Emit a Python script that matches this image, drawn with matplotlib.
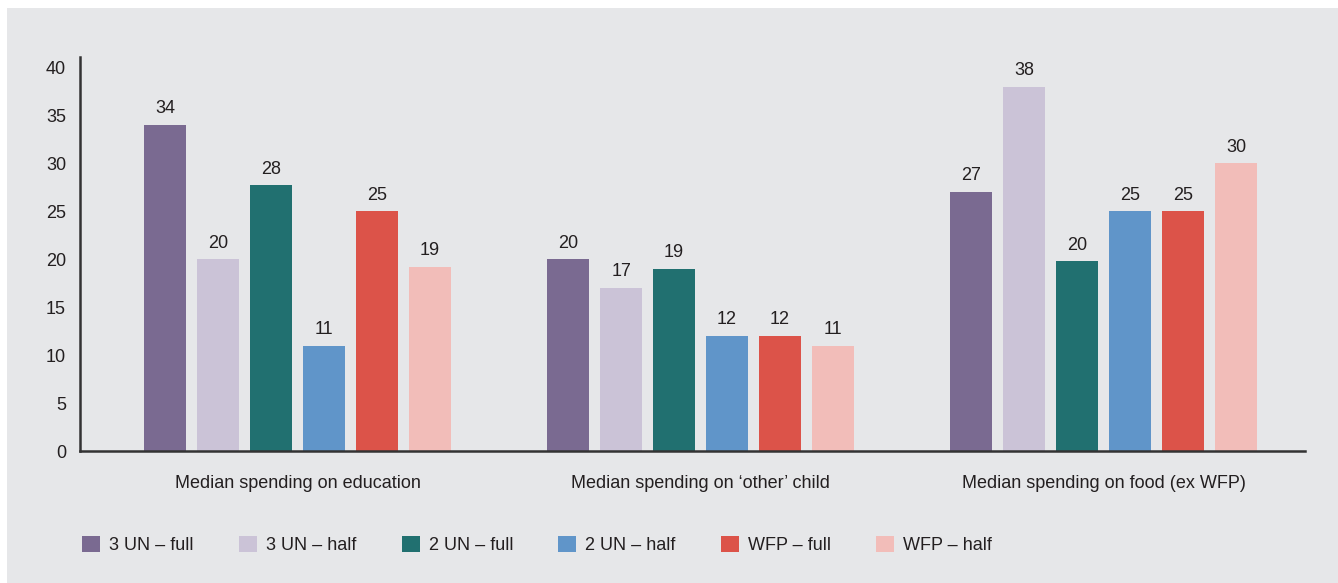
import numpy as np
import matplotlib.pyplot as plt
from matplotlib.patches import Rectangle

categories = ["Median spending on education",
              "Median spending on \u2018other\u2019 child",
              "Median spending on food (ex WFP)"]
series = ["3 UN \u2013 full", "3 UN \u2013 half", "2 UN \u2013 full",
          "2 UN \u2013 half", "WFP \u2013 full", "WFP \u2013 half"]
un3_full = [34, 20, 27]
un3_half = [20, 17, 38]
un2_full = [27.7, 19, 19.8]
un2_half = [11, 12, 25]
wfp_full = [25, 12, 25]
wfp_half = [19.2, 11, 30]
# printed labels (rounded)
labels = [[34, 20, 28, 11, 25, 19],
          [20, 17, 19, 12, 12, 11],
          [27, 38, 20, 25, 25, 30]]
colors = ["#7a6a91", "#cbc3d7", "#217070", "#6095c9", "#dc5349", "#f2bdb9"]

data = [un3_full, un3_half, un2_full, un2_half, wfp_full, wfp_half]

plt.rcParams['font.family'] = ['Liberation Sans Narrow', 'Liberation Sans', 'DejaVu Sans']
txt = "#231f20"
bg = "#e6e7e9"
fs = 13

fig = plt.figure(figsize=(13.38, 5.83), dpi=100)
fig.patch.set_facecolor("white")
fig.patches.append(Rectangle((7 / 1338, 0), 1, 1 - 8 / 583, transform=fig.transFigure,
                             facecolor=bg, edgecolor="none", zorder=-10))

ax = fig.add_axes([80 / 1338, 1 - 451 / 583, (1305 - 80) / 1338, (451 - 57) / 583])
ax.set_facecolor(bg)

x = np.arange(len(categories))
step = 0.1315
width = 0.104
for i, (vals, c, name) in enumerate(zip(data, colors, series)):
    pos = x + (i - 2.5) * step
    ax.bar(pos, vals, width, color=c, label=name, zorder=2)
    for j, p in enumerate(pos):
        ax.text(p, vals[j] + 0.8, str(labels[j][i]), ha="center", va="bottom",
                fontsize=fs, color=txt)

ax.set_xlim(-0.54, 2.5)
ax.set_ylim(0, 41.1)
ax.set_yticks(range(0, 41, 5))
ax.set_xticks(x)
ax.set_xticklabels(categories)
ax.tick_params(axis="y", length=0, labelsize=fs, colors=txt, pad=10)
ax.tick_params(axis="x", length=0, labelsize=fs, colors=txt, pad=17)
for s in ["top", "right"]:
    ax.spines[s].set_visible(False)
for s in ["left", "bottom"]:
    ax.spines[s].set_color("#333333")
    ax.spines[s].set_linewidth(1.8)

handles, lbls = ax.get_legend_handles_labels()
leg = fig.legend(handles, lbls, loc="center left", bbox_to_anchor=(66 / 1338, 1 - 545 / 583),
                 ncol=6, frameon=False, fontsize=fs, handlelength=1.0, handleheight=1.0,
                 handletextpad=0.5, columnspacing=2.5)
for t in leg.get_texts():
    t.set_color(txt)

fig.savefig("out.png", dpi=100, facecolor=fig.get_facecolor())
